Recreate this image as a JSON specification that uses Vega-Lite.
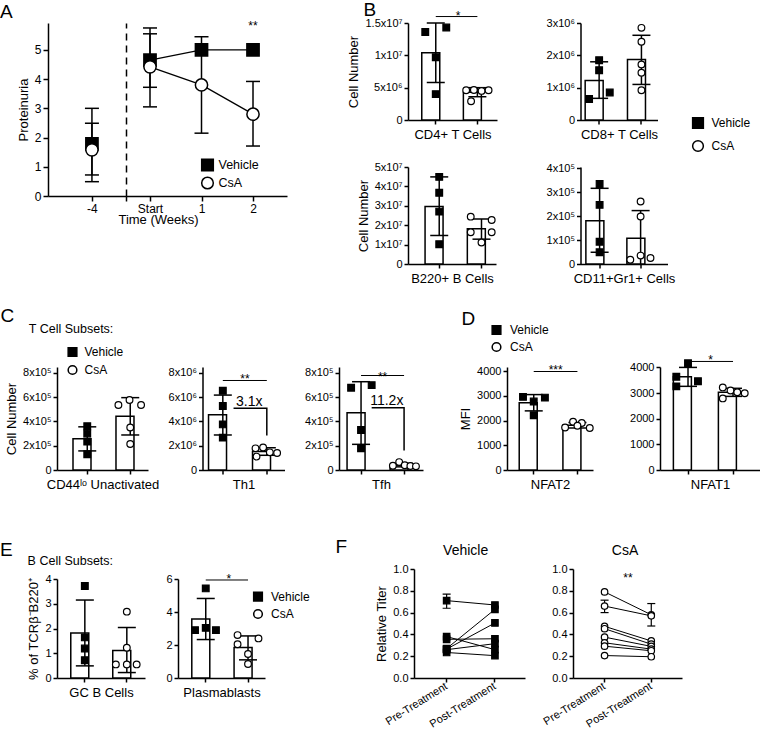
{
"$schema": "https://vega.github.io/schema/vega-lite/v6.json",
"background": "white",
"padding": 0,
"config": {
 "font": "Liberation Sans",
 "view": {"stroke": null},
 "mark": {"color": "black"},
 "axis": {"grid": false, "labelOverlap": false, "domainColor": "black", "domainWidth": 1.5, "tickColor": "black", "tickWidth": 1.5, "tickSize": 4, "labelColor": "black", "labelFont": "Liberation Sans", "labelFontSize": 11, "labelPadding": 2, "titleColor": "black", "titleFont": "Liberation Sans", "titleFontSize": 13, "titleFontWeight": "normal"},
 "axisX": {"titlePadding": 4},
 "axisY": {"titlePadding": 4},
 "legend": {"labelFont": "Liberation Sans", "labelColor": "black", "labelFontSize": 12},
 "title": {"font": "Liberation Sans", "fontWeight": "normal", "color": "black"}
},
"datasets": {
 "A": [
  {"seg": "L", "g": "Vehicle", "w": -4, "m": 1.78, "lo": 0.49, "hi": 3.0},
  {"seg": "L", "g": "CsA", "w": -4, "m": 1.58, "lo": 0.72, "hi": 2.49},
  {"seg": "R", "g": "Vehicle", "w": 0, "m": 4.65, "lo": 3.72, "hi": 5.55},
  {"seg": "R", "g": "CsA", "w": 0, "m": 4.42, "lo": 3.05, "hi": 5.75},
  {"seg": "R", "g": "Vehicle", "w": 1, "m": 5.0},
  {"seg": "R", "g": "CsA", "w": 1, "m": 3.8, "lo": 2.15, "hi": 5.45},
  {"seg": "R", "g": "Vehicle", "w": 2, "m": 5.0},
  {"seg": "R", "g": "CsA", "w": 2, "m": 2.8, "lo": 1.71, "hi": 3.92}
 ],
 "bars": [
  {"p": "CD4", "k": "s", "g": "Vehicle", "m": 10400000, "lo": 5800000, "hi": 15000000},
  {"p": "CD4", "k": "s", "g": "CsA", "m": 4300000, "lo": 3600000, "hi": 5000000},
  {"p": "CD4", "k": "p", "g": "Vehicle", "v": 13600000, "j": -0.75},
  {"p": "CD4", "k": "p", "g": "Vehicle", "v": 14300000, "j": 0.75},
  {"p": "CD4", "k": "p", "g": "Vehicle", "v": 9700000, "j": 0},
  {"p": "CD4", "k": "p", "g": "Vehicle", "v": 4000000, "j": 0},
  {"p": "CD4", "k": "p", "g": "CsA", "v": 4600000, "j": -0.8},
  {"p": "CD4", "k": "p", "g": "CsA", "v": 4650000, "j": -0.25},
  {"p": "CD4", "k": "p", "g": "CsA", "v": 4500000, "j": 0.3},
  {"p": "CD4", "k": "p", "g": "CsA", "v": 4600000, "j": 0.8},
  {"p": "CD4", "k": "p", "g": "CsA", "v": 2900000, "j": -0.45},
  {"p": "CD4", "k": "sig", "g": "Vehicle", "v": 16000000},
  {"p": "CD4", "k": "sig", "g": "CsA", "v": 16000000},
  {"p": "CD4", "k": "ast", "g": "Vehicle", "v": 15400000, "j": 1.6, "t": "*"},
  {"p": "CD8", "k": "s", "g": "Vehicle", "m": 1220000, "lo": 670000, "hi": 1800000},
  {"p": "CD8", "k": "s", "g": "CsA", "m": 1870000, "lo": 1100000, "hi": 2620000},
  {"p": "CD8", "k": "p", "g": "Vehicle", "v": 1850000, "j": 0},
  {"p": "CD8", "k": "p", "g": "Vehicle", "v": 1540000, "j": 0},
  {"p": "CD8", "k": "p", "g": "Vehicle", "v": 650000, "j": -0.72},
  {"p": "CD8", "k": "p", "g": "Vehicle", "v": 850000, "j": 0.76},
  {"p": "CD8", "k": "p", "g": "CsA", "v": 2850000, "j": 0},
  {"p": "CD8", "k": "p", "g": "CsA", "v": 2420000, "j": 0},
  {"p": "CD8", "k": "p", "g": "CsA", "v": 1720000, "j": 0},
  {"p": "CD8", "k": "p", "g": "CsA", "v": 1460000, "j": 0},
  {"p": "CD8", "k": "p", "g": "CsA", "v": 920000, "j": 0},
  {"p": "B220", "k": "s", "g": "Vehicle", "m": 29700000, "lo": 14700000, "hi": 44900000},
  {"p": "B220", "k": "s", "g": "CsA", "m": 18200000, "lo": 12800000, "hi": 23200000},
  {"p": "B220", "k": "p", "g": "Vehicle", "v": 44900000, "j": 0},
  {"p": "B220", "k": "p", "g": "Vehicle", "v": 36700000, "j": 0},
  {"p": "B220", "k": "p", "g": "Vehicle", "v": 27000000, "j": 0},
  {"p": "B220", "k": "p", "g": "Vehicle", "v": 10200000, "j": 0},
  {"p": "B220", "k": "p", "g": "CsA", "v": 24400000, "j": -0.76},
  {"p": "B220", "k": "p", "g": "CsA", "v": 22700000, "j": 0.72},
  {"p": "B220", "k": "p", "g": "CsA", "v": 16400000, "j": -0.76},
  {"p": "B220", "k": "p", "g": "CsA", "v": 16400000, "j": 0.72},
  {"p": "B220", "k": "p", "g": "CsA", "v": 11100000, "j": 0},
  {"p": "CD11", "k": "s", "g": "Vehicle", "m": 181000, "lo": 49000, "hi": 316000},
  {"p": "CD11", "k": "s", "g": "CsA", "m": 107000, "lo": 0, "hi": 223000},
  {"p": "CD11", "k": "p", "g": "Vehicle", "v": 334000, "j": 0},
  {"p": "CD11", "k": "p", "g": "Vehicle", "v": 247000, "j": 0},
  {"p": "CD11", "k": "p", "g": "Vehicle", "v": 93000, "j": 0},
  {"p": "CD11", "k": "p", "g": "Vehicle", "v": 49000, "j": 0},
  {"p": "CD11", "k": "p", "g": "CsA", "v": 261000, "j": 0},
  {"p": "CD11", "k": "p", "g": "CsA", "v": 198000, "j": 0},
  {"p": "CD11", "k": "p", "g": "CsA", "v": 18000, "j": -0.75},
  {"p": "CD11", "k": "p", "g": "CsA", "v": 35000, "j": 0},
  {"p": "CD11", "k": "p", "g": "CsA", "v": 25000, "j": 0.72},
  {"p": "C1", "k": "s", "g": "Vehicle", "m": 256000, "lo": 157000, "hi": 355000},
  {"p": "C1", "k": "s", "g": "CsA", "m": 441000, "lo": 288000, "hi": 595000},
  {"p": "C1", "k": "p", "g": "Vehicle", "v": 360000, "j": 0},
  {"p": "C1", "k": "p", "g": "Vehicle", "v": 300000, "j": 0},
  {"p": "C1", "k": "p", "g": "Vehicle", "v": 233000, "j": 0},
  {"p": "C1", "k": "p", "g": "Vehicle", "v": 130000, "j": 0},
  {"p": "C1", "k": "p", "g": "CsA", "v": 534000, "j": -0.83},
  {"p": "C1", "k": "p", "g": "CsA", "v": 575000, "j": -0.05},
  {"p": "C1", "k": "p", "g": "CsA", "v": 534000, "j": 0.76},
  {"p": "C1", "k": "p", "g": "CsA", "v": 350000, "j": 0},
  {"p": "C1", "k": "p", "g": "CsA", "v": 214000, "j": 0},
  {"p": "C2", "k": "s", "g": "Vehicle", "m": 4550000, "lo": 2880000, "hi": 6160000},
  {"p": "C2", "k": "s", "g": "CsA", "m": 1520000, "lo": 1210000, "hi": 1830000},
  {"p": "C2", "k": "p", "g": "Vehicle", "v": 6520000, "j": 0},
  {"p": "C2", "k": "p", "g": "Vehicle", "v": 5260000, "j": 0},
  {"p": "C2", "k": "p", "g": "Vehicle", "v": 3750000, "j": 0},
  {"p": "C2", "k": "p", "g": "Vehicle", "v": 2660000, "j": 0},
  {"p": "C2", "k": "p", "g": "CsA", "v": 1780000, "j": -0.79},
  {"p": "C2", "k": "p", "g": "CsA", "v": 1860000, "j": -0.26},
  {"p": "C2", "k": "p", "g": "CsA", "v": 1100000, "j": -0.72},
  {"p": "C2", "k": "p", "g": "CsA", "v": 1450000, "j": 0.21},
  {"p": "C2", "k": "p", "g": "CsA", "v": 1400000, "j": 0.72},
  {"p": "C2", "k": "sig", "g": "Vehicle", "v": 7360000},
  {"p": "C2", "k": "sig", "g": "CsA", "v": 7360000},
  {"p": "C2", "k": "ast", "g": "Vehicle", "v": 7150000, "j": 1.55, "t": "**"},
  {"p": "C2", "k": "br", "g": "Vehicle", "v": 5080000, "j": 0.75, "o": 1},
  {"p": "C2", "k": "br", "g": "CsA", "v": 5080000, "j": 0, "o": 2},
  {"p": "C2", "k": "br", "g": "CsA", "v": 2840000, "j": 0, "o": 3},
  {"p": "C2", "k": "fold", "g": "Vehicle", "v": 5300000, "j": 1.85, "t": "3.1x"},
  {"p": "C3", "k": "s", "g": "Vehicle", "m": 470000, "lo": 211000, "hi": 726000},
  {"p": "C3", "k": "s", "g": "CsA", "m": 40000, "lo": 26000, "hi": 54000},
  {"p": "C3", "k": "p", "g": "Vehicle", "v": 677000, "j": -0.71},
  {"p": "C3", "k": "p", "g": "Vehicle", "v": 698000, "j": 0.76},
  {"p": "C3", "k": "p", "g": "Vehicle", "v": 329000, "j": 0},
  {"p": "C3", "k": "p", "g": "Vehicle", "v": 178000, "j": 0},
  {"p": "C3", "k": "p", "g": "CsA", "v": 35000, "j": -0.8},
  {"p": "C3", "k": "p", "g": "CsA", "v": 65000, "j": -0.35},
  {"p": "C3", "k": "p", "g": "CsA", "v": 40000, "j": 0.05},
  {"p": "C3", "k": "p", "g": "CsA", "v": 33000, "j": 0.45},
  {"p": "C3", "k": "p", "g": "CsA", "v": 30000, "j": 0.85},
  {"p": "C3", "k": "sig", "g": "Vehicle", "v": 777000},
  {"p": "C3", "k": "sig", "g": "CsA", "v": 777000},
  {"p": "C3", "k": "ast", "g": "Vehicle", "v": 728000, "j": 1.54, "t": "**"},
  {"p": "C3", "k": "br", "g": "Vehicle", "v": 511000, "j": 0.76, "o": 1},
  {"p": "C3", "k": "br", "g": "CsA", "v": 511000, "j": 0, "o": 2},
  {"p": "C3", "k": "br", "g": "CsA", "v": 160000, "j": 0, "o": 3},
  {"p": "C3", "k": "fold", "g": "Vehicle", "v": 535000, "j": 1.84, "t": "11.2x"},
  {"p": "D1", "k": "s", "g": "Vehicle", "m": 2715, "lo": 2389, "hi": 3047},
  {"p": "D1", "k": "s", "g": "CsA", "m": 1812, "lo": 1700, "hi": 1924},
  {"p": "D1", "k": "p", "g": "Vehicle", "v": 2953, "j": -0.74},
  {"p": "D1", "k": "p", "g": "Vehicle", "v": 2926, "j": 0.77},
  {"p": "D1", "k": "p", "g": "Vehicle", "v": 2765, "j": 0},
  {"p": "D1", "k": "p", "g": "Vehicle", "v": 2215, "j": 0},
  {"p": "D1", "k": "p", "g": "CsA", "v": 1720, "j": -0.85},
  {"p": "D1", "k": "p", "g": "CsA", "v": 1950, "j": -0.3},
  {"p": "D1", "k": "p", "g": "CsA", "v": 1900, "j": 0.3},
  {"p": "D1", "k": "p", "g": "CsA", "v": 1700, "j": 0.85},
  {"p": "D1", "k": "p", "g": "CsA", "v": 1790, "j": 0},
  {"p": "D1", "k": "sig", "g": "Vehicle", "v": 3980},
  {"p": "D1", "k": "sig", "g": "CsA", "v": 3980},
  {"p": "D1", "k": "ast", "g": "Vehicle", "v": 3870, "j": 1.51, "t": "***"},
  {"p": "D2", "k": "s", "g": "Vehicle", "m": 3631, "lo": 3262, "hi": 4000},
  {"p": "D2", "k": "s", "g": "CsA", "m": 3028, "lo": 2871, "hi": 3185},
  {"p": "D2", "k": "p", "g": "Vehicle", "v": 4161, "j": 0},
  {"p": "D2", "k": "p", "g": "Vehicle", "v": 3638, "j": -0.8},
  {"p": "D2", "k": "p", "g": "Vehicle", "v": 3463, "j": 0.68},
  {"p": "D2", "k": "p", "g": "Vehicle", "v": 3262, "j": -0.8},
  {"p": "D2", "k": "p", "g": "CsA", "v": 3221, "j": -0.7},
  {"p": "D2", "k": "p", "g": "CsA", "v": 3100, "j": -0.17},
  {"p": "D2", "k": "p", "g": "CsA", "v": 3034, "j": 0.29},
  {"p": "D2", "k": "p", "g": "CsA", "v": 2993, "j": 0.8},
  {"p": "D2", "k": "p", "g": "CsA", "v": 2792, "j": -0.7},
  {"p": "D2", "k": "sig", "g": "Vehicle", "v": 4232},
  {"p": "D2", "k": "sig", "g": "CsA", "v": 4232},
  {"p": "D2", "k": "ast", "g": "Vehicle", "v": 4114, "j": 1.54, "t": "*"},
  {"p": "E1", "k": "s", "g": "Vehicle", "m": 1.82, "lo": 0.49, "hi": 3.15},
  {"p": "E1", "k": "s", "g": "CsA", "m": 1.11, "lo": 0.22, "hi": 2.04},
  {"p": "E1", "k": "p", "g": "Vehicle", "v": 3.72, "j": 0},
  {"p": "E1", "k": "p", "g": "Vehicle", "v": 1.64, "j": 0},
  {"p": "E1", "k": "p", "g": "Vehicle", "v": 1.19, "j": 0},
  {"p": "E1", "k": "p", "g": "Vehicle", "v": 0.72, "j": 0},
  {"p": "E1", "k": "p", "g": "CsA", "v": 2.68, "j": 0},
  {"p": "E1", "k": "p", "g": "CsA", "v": 1.22, "j": 0},
  {"p": "E1", "k": "p", "g": "CsA", "v": 0.55, "j": -0.78},
  {"p": "E1", "k": "p", "g": "CsA", "v": 0.55, "j": 0},
  {"p": "E1", "k": "p", "g": "CsA", "v": 0.55, "j": 0.7},
  {"p": "E2", "k": "s", "g": "Vehicle", "m": 3.57, "lo": 2.33, "hi": 4.82},
  {"p": "E2", "k": "s", "g": "CsA", "m": 1.85, "lo": 1.1, "hi": 2.55},
  {"p": "E2", "k": "p", "g": "Vehicle", "v": 5.43, "j": 0},
  {"p": "E2", "k": "p", "g": "Vehicle", "v": 2.9, "j": -0.77},
  {"p": "E2", "k": "p", "g": "Vehicle", "v": 3.04, "j": 0},
  {"p": "E2", "k": "p", "g": "Vehicle", "v": 2.9, "j": 0.73},
  {"p": "E2", "k": "p", "g": "CsA", "v": 2.6, "j": -0.75},
  {"p": "E2", "k": "p", "g": "CsA", "v": 2.4, "j": 0.75},
  {"p": "E2", "k": "p", "g": "CsA", "v": 2.05, "j": -0.75},
  {"p": "E2", "k": "p", "g": "CsA", "v": 1.45, "j": 0},
  {"p": "E2", "k": "p", "g": "CsA", "v": 0.85, "j": 0},
  {"p": "E2", "k": "sig", "g": "Vehicle", "v": 5.94},
  {"p": "E2", "k": "sig", "g": "CsA", "v": 5.94},
  {"p": "E2", "k": "ast", "g": "Vehicle", "v": 5.76, "j": 1.65, "t": "*"}
 ],
 "F": [
  {"p": "Vehicle", "id": "v1", "t": "Pre-Treatment", "v": 0.71, "lo": 0.64, "hi": 0.77},
  {"p": "Vehicle", "id": "v1", "t": "Post-Treatment", "v": 0.67},
  {"p": "Vehicle", "id": "v2", "t": "Pre-Treatment", "v": 0.38},
  {"p": "Vehicle", "id": "v2", "t": "Post-Treatment", "v": 0.26},
  {"p": "Vehicle", "id": "v3", "t": "Pre-Treatment", "v": 0.355},
  {"p": "Vehicle", "id": "v3", "t": "Post-Treatment", "v": 0.36},
  {"p": "Vehicle", "id": "v4", "t": "Pre-Treatment", "v": 0.27},
  {"p": "Vehicle", "id": "v4", "t": "Post-Treatment", "v": 0.63},
  {"p": "Vehicle", "id": "v5", "t": "Pre-Treatment", "v": 0.265},
  {"p": "Vehicle", "id": "v5", "t": "Post-Treatment", "v": 0.505},
  {"p": "Vehicle", "id": "v6", "t": "Pre-Treatment", "v": 0.26},
  {"p": "Vehicle", "id": "v6", "t": "Post-Treatment", "v": 0.315},
  {"p": "Vehicle", "id": "v7", "t": "Pre-Treatment", "v": 0.234},
  {"p": "Vehicle", "id": "v7", "t": "Post-Treatment", "v": 0.205},
  {"p": "CsA", "id": "c1", "t": "Pre-Treatment", "v": 0.79},
  {"p": "CsA", "id": "c1", "t": "Post-Treatment", "v": 0.58, "lo": 0.477, "hi": 0.683},
  {"p": "CsA", "id": "c2", "t": "Pre-Treatment", "v": 0.66, "lo": 0.6, "hi": 0.714},
  {"p": "CsA", "id": "c2", "t": "Post-Treatment", "v": 0.57},
  {"p": "CsA", "id": "c3", "t": "Pre-Treatment", "v": 0.474},
  {"p": "CsA", "id": "c3", "t": "Post-Treatment", "v": 0.34},
  {"p": "CsA", "id": "c4", "t": "Pre-Treatment", "v": 0.452},
  {"p": "CsA", "id": "c4", "t": "Post-Treatment", "v": 0.31},
  {"p": "CsA", "id": "c5", "t": "Pre-Treatment", "v": 0.375},
  {"p": "CsA", "id": "c5", "t": "Post-Treatment", "v": 0.29},
  {"p": "CsA", "id": "c6", "t": "Pre-Treatment", "v": 0.323},
  {"p": "CsA", "id": "c6", "t": "Post-Treatment", "v": 0.265},
  {"p": "CsA", "id": "c7", "t": "Pre-Treatment", "v": 0.292},
  {"p": "CsA", "id": "c7", "t": "Post-Treatment", "v": 0.25},
  {"p": "CsA", "id": "c8", "t": "Pre-Treatment", "v": 0.206},
  {"p": "CsA", "id": "c8", "t": "Post-Treatment", "v": 0.195}
 ]
},
"columns": 6, "spacing": 0, "bounds": "flush", "align": "each",
"resolve": {"scale": {"x": "independent", "y": "independent", "xOffset": "independent", "shape": "independent", "fill": "independent", "stroke": "independent"}, "legend": {"shape": "independent", "fill": "independent", "stroke": "independent"}},
"concat": [
 {"width": 48, "height": 23, "view": {"fill": "white"}, "data": {"values": []}, "mark": "point",
  "title": {"text": "A", "orient": "bottom", "anchor": "start", "frame": "group", "dx": 0, "offset": -5.5, "fontSize": 19, "baseline": "alphabetic"}},
 {"width": 9, "height": 1, "data": {"values": []}, "mark": "point"},
 {"width": 351, "height": 23, "data": {"values": []}, "mark": "point",
  "title": {"text": "B", "orient": "bottom", "anchor": "start", "frame": "group", "dx": 306.5, "offset": -7, "fontSize": 19, "baseline": "alphabetic"}},
 {"width": 6, "height": 1, "data": {"values": []}, "mark": "point"},
 {"width": 93, "height": 1, "data": {"values": []}, "mark": "point"},
 {"width": 1, "height": 1, "data": {"values": []}, "mark": "point"},

 {"width": 1, "height": 344, "data": {"values": []}, "mark": "point",
  "title": {"text": "Time (Weeks)", "orient": "bottom", "anchor": "middle", "frame": "group", "dx": 158, "offset": -143, "fontSize": 13, "baseline": "alphabetic"}},
 {"hconcat": [
  {"width": 78, "height": 173,
   "data": {"name": "A"}, "transform": [{"filter": "datum.seg=='L'"}],
   "encoding": {"x": {"field": "w", "type": "quantitative", "scale": {"domain": [-5.29, -3], "nice": false, "zero": false}, "axis": {"values": [-4, -3], "tickCount": 20, "labelExpr": "datum.value==-4?'-4':''", "title": null, "labelFontSize": 12, "tickSize": 5}}},
   "layer": [
    {"mark": {"type": "rule", "strokeWidth": 1.5}, "encoding": {"y": {"field": "lo", "type": "quantitative", "scale": {"domain": [0, 5.92], "nice": false}, "axis": {"values": [0, 1, 2, 3, 4, 5], "tickCount": 20, "format": "d", "title": "Proteinuria", "labelFontSize": 12, "tickSize": 5}}, "y2": {"field": "hi"}}},
    {"mark": {"type": "tick", "orient": "horizontal", "size": 14, "thickness": 1.5, "opacity": 1}, "encoding": {"y": {"field": "lo", "type": "quantitative"}}},
    {"mark": {"type": "tick", "orient": "horizontal", "size": 14, "thickness": 1.5, "opacity": 1}, "encoding": {"y": {"field": "hi", "type": "quantitative"}}},
    {"mark": {"type": "point", "filled": true, "stroke": "black", "strokeWidth": 1.5, "size": 150, "opacity": 1}, "encoding": {"y": {"field": "m", "type": "quantitative"},
      "shape": {"field": "g", "type": "nominal", "scale": {"domain": ["Vehicle", "CsA"], "range": ["square", "circle"]}, "legend": null},
      "fill": {"field": "g", "type": "nominal", "scale": {"domain": ["Vehicle", "CsA"], "range": ["black", "white"]}, "legend": null}}}
   ]},
  {"width": 161, "height": 173,
   "data": {"name": "A"}, "transform": [{"filter": "datum.seg=='R'"}],
   "encoding": {"x": {"field": "w", "type": "quantitative", "scale": {"domain": [-0.466, 2.66], "nice": false, "zero": false}, "axis": {"values": [0, 1, 2], "tickCount": 20, "labelExpr": "datum.value==0?'Start':datum.value==1?'1':'2'", "title": null, "labelFontSize": 12, "tickSize": 5}}},
   "layer": [
    {"mark": {"type": "line", "strokeWidth": 1.3}, "encoding": {"y": {"field": "m", "type": "quantitative", "scale": {"domain": [0, 5.92], "nice": false}, "axis": {"domainDash": [7, 5], "ticks": false, "labels": false, "title": null}}, "detail": {"field": "g"}}},
    {"transform": [{"filter": "isValid(datum.lo)"}], "mark": {"type": "rule", "strokeWidth": 1.5}, "encoding": {"y": {"field": "lo", "type": "quantitative"}, "y2": {"field": "hi"}}},
    {"transform": [{"filter": "isValid(datum.lo)"}], "mark": {"type": "tick", "orient": "horizontal", "size": 14, "thickness": 1.5, "opacity": 1}, "encoding": {"y": {"field": "lo", "type": "quantitative"}}},
    {"transform": [{"filter": "isValid(datum.lo)"}], "mark": {"type": "tick", "orient": "horizontal", "size": 14, "thickness": 1.5, "opacity": 1}, "encoding": {"y": {"field": "hi", "type": "quantitative"}}},
    {"mark": {"type": "point", "filled": true, "stroke": "black", "strokeWidth": 1.5, "size": 150, "opacity": 1}, "encoding": {"y": {"field": "m", "type": "quantitative"},
      "shape": {"field": "g", "type": "nominal", "scale": {"domain": ["Vehicle", "CsA"], "range": ["square", "circle"]}, "legend": {"orient": "none", "legendX": 74.5, "legendY": 135, "title": null, "symbolSize": 135, "symbolStrokeWidth": 1.5, "labelFontSize": 12.5, "labelOffset": 4, "rowPadding": 0}},
      "fill": {"field": "g", "type": "nominal", "scale": {"domain": ["Vehicle", "CsA"], "range": ["black", "white"]}, "legend": {"orient": "none", "legendX": 74.5, "legendY": 135, "title": null, "symbolSize": 135, "symbolStrokeWidth": 1.5, "labelFontSize": 12.5, "labelOffset": 4, "rowPadding": 0}},
      "stroke": {"field": "g", "type": "nominal", "scale": {"domain": ["Vehicle", "CsA"], "range": ["black", "black"]}, "legend": {"orient": "none", "legendX": 74.5, "legendY": 135, "title": null, "symbolSize": 135, "symbolStrokeWidth": 1.5, "labelFontSize": 12.5, "labelOffset": 4, "rowPadding": 0}}}},
    {"data": {"values": [{"w": 2, "v": 5.69, "t": "**"}]}, "mark": {"type": "text", "fontSize": 12, "baseline": "alphabetic"}, "encoding": {"x": {"field": "w", "type": "quantitative"}, "y": {"field": "v", "type": "quantitative"}, "text": {"field": "t"}}}
   ]}
 ], "spacing": 0, "bounds": "flush",
 "resolve": {"scale": {"x": "independent", "y": "independent", "xOffset": "independent", "shape": "independent", "fill": "independent", "stroke": "independent"}, "legend": {"shape": "independent", "fill": "independent", "stroke": "independent"}}},
 {"width": 1, "height": 1, "data": {"values": []}, "mark": "point",
  "title": {"text": "T Cell Subsets:", "orient": "bottom", "anchor": "start", "frame": "group", "dx": -28.2, "offset": 309.3, "fontSize": 12.5, "baseline": "alphabetic"}},
 {"concat": [
  {"width": 89, "height": 97,
   "data": {"name": "bars"}, "transform": [{"filter": "datum.p=='CD4'"}],
   "encoding": {"x": {"field": "g", "type": "nominal", "sort": ["Vehicle", "CsA"], "scale": {"type": "band", "paddingInner": 0.327, "paddingOuter": 0.233, "align": 0.71}, "axis": {"labels": false, "title": "CD4+ T Cells"}}},
   "layer": [
    {"transform": [{"filter": "datum.k=='s'"}], "mark": {"type": "bar", "fill": "white", "stroke": "black", "strokeWidth": 1.5}, "encoding": {"y": {"field": "m", "type": "quantitative", "scale": {"domain": [0, 15000000], "nice": false}, "axis": {"values": [0, 5000000, 10000000, 15000000], "tickCount": 20, "labelExpr": "datum.value==0?'0':datum.value==5000000?'5x10⁶':datum.value==10000000?'1x10⁷':'1.5x10⁷'", "title": "Cell Number"}}}},
    {"transform": [{"filter": "datum.k=='s'"}], "mark": {"type": "rule", "strokeWidth": 1.5}, "encoding": {"y": {"field": "lo", "type": "quantitative"}, "y2": {"field": "hi"}}},
    {"transform": [{"filter": "datum.k=='s'"}], "mark": {"type": "tick", "orient": "horizontal", "size": 18, "thickness": 1.5, "opacity": 1}, "encoding": {"y": {"field": "lo", "type": "quantitative"}}},
    {"transform": [{"filter": "datum.k=='s'"}], "mark": {"type": "tick", "orient": "horizontal", "size": 18, "thickness": 1.5, "opacity": 1}, "encoding": {"y": {"field": "hi", "type": "quantitative"}}},
    {"transform": [{"filter": "datum.k=='p'"}], "mark": {"type": "point", "filled": true, "stroke": "black", "strokeWidth": 1.2, "size": 45, "opacity": 1}, "encoding": {"xOffset": {"field": "j", "type": "quantitative", "scale": {"domain": [-1, 1], "nice": false, "zero": false}}, "y": {"field": "v", "type": "quantitative"},
      "shape": {"field": "g", "type": "nominal", "scale": {"domain": ["Vehicle", "CsA"], "range": ["square", "circle"]}, "legend": null},
      "fill": {"field": "g", "type": "nominal", "scale": {"domain": ["Vehicle", "CsA"], "range": ["black", "white"]}, "legend": null}}},
    {"transform": [{"filter": "datum.k=='sig'"}], "mark": {"type": "line", "strokeWidth": 1}, "encoding": {"y": {"field": "v", "type": "quantitative"}}},
    {"transform": [{"filter": "datum.k=='ast'"}], "mark": {"type": "text", "fontSize": 12, "baseline": "alphabetic"}, "encoding": {"xOffset": {"field": "j", "type": "quantitative", "scale": {"domain": [-1, 1], "nice": false, "zero": false}}, "y": {"field": "v", "type": "quantitative"}, "text": {"field": "t"}}}
   ]},
  {"width": 77, "height": 97,
   "data": {"name": "bars"}, "transform": [{"filter": "datum.p=='CD8'"}],
   "encoding": {"x": {"field": "g", "type": "nominal", "sort": ["Vehicle", "CsA"], "scale": {"type": "band", "paddingInner": 0.34, "paddingOuter": 0.08, "align": 0.69}, "axis": {"labels": false, "title": "CD8+ T Cells"}}},
   "layer": [
    {"transform": [{"filter": "datum.k=='s'"}], "mark": {"type": "bar", "fill": "white", "stroke": "black", "strokeWidth": 1.5}, "encoding": {"y": {"field": "m", "type": "quantitative", "scale": {"domain": [0, 3000000], "nice": false}, "axis": {"values": [0, 1000000, 2000000, 3000000], "tickCount": 20, "labelExpr": "datum.value==0?'0':(datum.value/1000000)+'x10⁶'", "title": null}}}},
    {"transform": [{"filter": "datum.k=='s'"}], "mark": {"type": "rule", "strokeWidth": 1.5}, "encoding": {"y": {"field": "lo", "type": "quantitative"}, "y2": {"field": "hi"}}},
    {"transform": [{"filter": "datum.k=='s'"}], "mark": {"type": "tick", "orient": "horizontal", "size": 18, "thickness": 1.5, "opacity": 1}, "encoding": {"y": {"field": "lo", "type": "quantitative"}}},
    {"transform": [{"filter": "datum.k=='s'"}], "mark": {"type": "tick", "orient": "horizontal", "size": 18, "thickness": 1.5, "opacity": 1}, "encoding": {"y": {"field": "hi", "type": "quantitative"}}},
    {"transform": [{"filter": "datum.k=='p'"}], "mark": {"type": "point", "filled": true, "stroke": "black", "strokeWidth": 1.2, "size": 45, "opacity": 1}, "encoding": {"xOffset": {"field": "j", "type": "quantitative", "scale": {"domain": [-1, 1], "nice": false, "zero": false}}, "y": {"field": "v", "type": "quantitative"},
      "shape": {"field": "g", "type": "nominal", "scale": {"domain": ["Vehicle", "CsA"], "range": ["square", "circle"]}, "legend": {"orient": "none", "legendX": 111, "legendY": 93.5, "title": null, "symbolSize": 115, "symbolStrokeWidth": 1.5, "labelFontSize": 12, "labelOffset": 7, "rowPadding": 6}},
      "fill": {"field": "g", "type": "nominal", "scale": {"domain": ["Vehicle", "CsA"], "range": ["black", "white"]}, "legend": {"orient": "none", "legendX": 111, "legendY": 93.5, "title": null, "symbolSize": 115, "symbolStrokeWidth": 1.5, "labelFontSize": 12, "labelOffset": 7, "rowPadding": 6}},
      "stroke": {"field": "g", "type": "nominal", "scale": {"domain": ["Vehicle", "CsA"], "range": ["black", "black"]}, "legend": {"orient": "none", "legendX": 111, "legendY": 93.5, "title": null, "symbolSize": 115, "symbolStrokeWidth": 1.5, "labelFontSize": 12, "labelOffset": 7, "rowPadding": 6}}}}
   ]},
  {"width": 88, "height": 97,
   "data": {"name": "bars"}, "transform": [{"filter": "datum.p=='B220'"}],
   "encoding": {"x": {"field": "g", "type": "nominal", "sort": ["Vehicle", "CsA"], "scale": {"type": "band", "paddingInner": 0.33, "paddingOuter": 0.206, "align": 0.98}, "axis": {"labels": false, "title": "B220+ B Cells"}}},
   "layer": [
    {"transform": [{"filter": "datum.k=='s'"}], "mark": {"type": "bar", "fill": "white", "stroke": "black", "strokeWidth": 1.5}, "encoding": {"y": {"field": "m", "type": "quantitative", "scale": {"domain": [0, 50000000], "nice": false}, "axis": {"values": [0, 10000000, 20000000, 30000000, 40000000, 50000000], "tickCount": 20, "labelExpr": "datum.value==0?'0':(datum.value/10000000)+'x10⁷'", "title": "Cell Number"}}}},
    {"transform": [{"filter": "datum.k=='s'"}], "mark": {"type": "rule", "strokeWidth": 1.5}, "encoding": {"y": {"field": "lo", "type": "quantitative"}, "y2": {"field": "hi"}}},
    {"transform": [{"filter": "datum.k=='s'"}], "mark": {"type": "tick", "orient": "horizontal", "size": 18, "thickness": 1.5, "opacity": 1}, "encoding": {"y": {"field": "lo", "type": "quantitative"}}},
    {"transform": [{"filter": "datum.k=='s'"}], "mark": {"type": "tick", "orient": "horizontal", "size": 18, "thickness": 1.5, "opacity": 1}, "encoding": {"y": {"field": "hi", "type": "quantitative"}}},
    {"transform": [{"filter": "datum.k=='p'"}], "mark": {"type": "point", "filled": true, "stroke": "black", "strokeWidth": 1.2, "size": 45, "opacity": 1}, "encoding": {"xOffset": {"field": "j", "type": "quantitative", "scale": {"domain": [-1, 1], "nice": false, "zero": false}}, "y": {"field": "v", "type": "quantitative"},
      "shape": {"field": "g", "type": "nominal", "scale": {"domain": ["Vehicle", "CsA"], "range": ["square", "circle"]}, "legend": null},
      "fill": {"field": "g", "type": "nominal", "scale": {"domain": ["Vehicle", "CsA"], "range": ["black", "white"]}, "legend": null}}}
   ]},
  {"width": 87, "height": 97,
   "data": {"name": "bars"}, "transform": [{"filter": "datum.p=='CD11'"}],
   "encoding": {"x": {"field": "g", "type": "nominal", "sort": ["Vehicle", "CsA"], "scale": {"type": "band", "paddingInner": 0.33, "paddingOuter": 0.226, "align": 0.29}, "axis": {"labels": false, "title": "CD11+Gr1+ Cells"}}},
   "layer": [
    {"transform": [{"filter": "datum.k=='s'"}], "mark": {"type": "bar", "fill": "white", "stroke": "black", "strokeWidth": 1.5}, "encoding": {"y": {"field": "m", "type": "quantitative", "scale": {"domain": [0, 405000], "nice": false}, "axis": {"values": [0, 100000, 200000, 300000, 400000], "tickCount": 20, "labelExpr": "datum.value==0?'0':(datum.value/100000)+'x10⁵'", "title": null}}}},
    {"transform": [{"filter": "datum.k=='s'"}], "mark": {"type": "rule", "strokeWidth": 1.5}, "encoding": {"y": {"field": "lo", "type": "quantitative"}, "y2": {"field": "hi"}}},
    {"transform": [{"filter": "datum.k=='s' && datum.lo>0"}], "mark": {"type": "tick", "orient": "horizontal", "size": 18, "thickness": 1.5, "opacity": 1}, "encoding": {"y": {"field": "lo", "type": "quantitative"}}},
    {"transform": [{"filter": "datum.k=='s'"}], "mark": {"type": "tick", "orient": "horizontal", "size": 18, "thickness": 1.5, "opacity": 1}, "encoding": {"y": {"field": "hi", "type": "quantitative"}}},
    {"transform": [{"filter": "datum.k=='p'"}], "mark": {"type": "point", "filled": true, "stroke": "black", "strokeWidth": 1.2, "size": 45, "opacity": 1}, "encoding": {"xOffset": {"field": "j", "type": "quantitative", "scale": {"domain": [-1, 1], "nice": false, "zero": false}}, "y": {"field": "v", "type": "quantitative"},
      "shape": {"field": "g", "type": "nominal", "scale": {"domain": ["Vehicle", "CsA"], "range": ["square", "circle"]}, "legend": null},
      "fill": {"field": "g", "type": "nominal", "scale": {"domain": ["Vehicle", "CsA"], "range": ["black", "white"]}, "legend": null}}}
   ]}
 ], "columns": 2, "spacing": {"row": 47, "column": 83.5}, "bounds": "flush",
 "resolve": {"scale": {"x": "independent", "y": "independent", "xOffset": "independent", "shape": "independent", "fill": "independent", "stroke": "independent"}, "legend": {"shape": "independent", "fill": "independent", "stroke": "independent"}}},
 {"width": 1, "height": 1, "data": {"values": []}, "mark": "point",
  "title": {"text": "D", "orient": "bottom", "anchor": "start", "frame": "group", "dx": 47.5, "offset": 301, "fontSize": 19, "baseline": "alphabetic"}},
 {"width": 1, "height": 1, "data": {"values": []}, "mark": "point",
  "title": {"text": "C", "orient": "bottom", "anchor": "start", "frame": "group", "dx": -506.5, "offset": 297.7, "fontSize": 19, "baseline": "alphabetic"}},

 {"width": 1, "height": 202, "data": {"values": []}, "mark": "point",
  "title": {"text": "E", "orient": "bottom", "anchor": "start", "frame": "group", "dx": 0, "offset": -13, "fontSize": 19, "baseline": "alphabetic"}},
 {"width": 1, "height": 1, "data": {"values": []}, "mark": "point",
  "title": {"text": "B Cell Subsets:", "orient": "bottom", "anchor": "start", "frame": "group", "dx": -20.4, "offset": 197, "fontSize": 12.5, "baseline": "alphabetic"}},
 {"hconcat": [
  {"width": 91, "height": 103,
   "data": {"name": "bars"}, "transform": [{"filter": "datum.p=='C1'"}],
   "encoding": {"x": {"field": "g", "type": "nominal", "sort": ["Vehicle", "CsA"], "scale": {"type": "band", "paddingInner": 0.337, "paddingOuter": 0.227, "align": 0.82}, "axis": {"labels": false, "title": "CD44ˡᵒ Unactivated"}}},
   "layer": [
    {"transform": [{"filter": "datum.k=='s'"}], "mark": {"type": "bar", "fill": "white", "stroke": "black", "strokeWidth": 1.5}, "encoding": {"y": {"field": "m", "type": "quantitative", "scale": {"domain": [0, 847000], "nice": false}, "axis": {"values": [0, 200000, 400000, 600000, 800000], "tickCount": 20, "labelExpr": "datum.value==0?'0':(datum.value/100000)+'x10⁵'", "title": "Cell Number"}}}},
    {"transform": [{"filter": "datum.k=='s'"}], "mark": {"type": "rule", "strokeWidth": 1.5}, "encoding": {"y": {"field": "lo", "type": "quantitative"}, "y2": {"field": "hi"}}},
    {"transform": [{"filter": "datum.k=='s'"}], "mark": {"type": "tick", "orient": "horizontal", "size": 18, "thickness": 1.5, "opacity": 1}, "encoding": {"y": {"field": "lo", "type": "quantitative"}}},
    {"transform": [{"filter": "datum.k=='s'"}], "mark": {"type": "tick", "orient": "horizontal", "size": 18, "thickness": 1.5, "opacity": 1}, "encoding": {"y": {"field": "hi", "type": "quantitative"}}},
    {"transform": [{"filter": "datum.k=='p'"}], "mark": {"type": "point", "filled": true, "stroke": "black", "strokeWidth": 1.2, "size": 45, "opacity": 1}, "encoding": {"xOffset": {"field": "j", "type": "quantitative", "scale": {"domain": [-1, 1], "nice": false, "zero": false}}, "y": {"field": "v", "type": "quantitative"},
      "shape": {"field": "g", "type": "nominal", "scale": {"domain": ["Vehicle", "CsA"], "range": ["square", "circle"]}, "legend": {"orient": "none", "legendX": 9.5, "legendY": -21, "title": null, "symbolSize": 75, "symbolStrokeWidth": 1.5, "labelFontSize": 12, "labelOffset": 6, "rowPadding": 2}},
      "fill": {"field": "g", "type": "nominal", "scale": {"domain": ["Vehicle", "CsA"], "range": ["black", "white"]}, "legend": {"orient": "none", "legendX": 9.5, "legendY": -21, "title": null, "symbolSize": 75, "symbolStrokeWidth": 1.5, "labelFontSize": 12, "labelOffset": 6, "rowPadding": 2}},
      "stroke": {"field": "g", "type": "nominal", "scale": {"domain": ["Vehicle", "CsA"], "range": ["black", "black"]}, "legend": {"orient": "none", "legendX": 9.5, "legendY": -21, "title": null, "symbolSize": 75, "symbolStrokeWidth": 1.5, "labelFontSize": 12, "labelOffset": 6, "rowPadding": 2}}}}
   ]},
  {"width": 82, "height": 103,
   "data": {"name": "bars"}, "transform": [{"filter": "datum.p=='C2'"}],
   "encoding": {"x": {"field": "g", "type": "nominal", "sort": ["Vehicle", "CsA"], "scale": {"type": "band", "paddingInner": 0.35, "paddingOuter": 0.107, "align": 0.64}, "axis": {"labels": false, "title": "Th1"}}},
   "layer": [
    {"transform": [{"filter": "datum.k=='s'"}], "mark": {"type": "bar", "fill": "white", "stroke": "black", "strokeWidth": 1.5}, "encoding": {"y": {"field": "m", "type": "quantitative", "scale": {"domain": [0, 8470000], "nice": false}, "axis": {"values": [0, 2000000, 4000000, 6000000, 8000000], "tickCount": 20, "labelExpr": "datum.value==0?'0':(datum.value/1000000)+'x10⁶'", "title": null}}}},
    {"transform": [{"filter": "datum.k=='s'"}], "mark": {"type": "rule", "strokeWidth": 1.5}, "encoding": {"y": {"field": "lo", "type": "quantitative"}, "y2": {"field": "hi"}}},
    {"transform": [{"filter": "datum.k=='s'"}], "mark": {"type": "tick", "orient": "horizontal", "size": 18, "thickness": 1.5, "opacity": 1}, "encoding": {"y": {"field": "lo", "type": "quantitative"}}},
    {"transform": [{"filter": "datum.k=='s'"}], "mark": {"type": "tick", "orient": "horizontal", "size": 18, "thickness": 1.5, "opacity": 1}, "encoding": {"y": {"field": "hi", "type": "quantitative"}}},
    {"transform": [{"filter": "datum.k=='p'"}], "mark": {"type": "point", "filled": true, "stroke": "black", "strokeWidth": 1.2, "size": 45, "opacity": 1}, "encoding": {"xOffset": {"field": "j", "type": "quantitative", "scale": {"domain": [-1, 1], "nice": false, "zero": false}}, "y": {"field": "v", "type": "quantitative"},
      "shape": {"field": "g", "type": "nominal", "scale": {"domain": ["Vehicle", "CsA"], "range": ["square", "circle"]}, "legend": null},
      "fill": {"field": "g", "type": "nominal", "scale": {"domain": ["Vehicle", "CsA"], "range": ["black", "white"]}, "legend": null}}},
    {"transform": [{"filter": "datum.k=='sig'"}], "mark": {"type": "line", "strokeWidth": 1}, "encoding": {"y": {"field": "v", "type": "quantitative"}}},
    {"transform": [{"filter": "datum.k=='ast'"}], "mark": {"type": "text", "fontSize": 12, "baseline": "alphabetic"}, "encoding": {"xOffset": {"field": "j", "type": "quantitative", "scale": {"domain": [-1, 1], "nice": false, "zero": false}}, "y": {"field": "v", "type": "quantitative"}, "text": {"field": "t"}}},
    {"transform": [{"filter": "datum.k=='br'"}], "mark": {"type": "line", "strokeWidth": 1.5}, "encoding": {"xOffset": {"field": "j", "type": "quantitative", "scale": {"domain": [-1, 1], "nice": false, "zero": false}}, "y": {"field": "v", "type": "quantitative"}, "order": {"field": "o"}}},
    {"transform": [{"filter": "datum.k=='fold'"}], "mark": {"type": "text", "fontSize": 14, "baseline": "alphabetic"}, "encoding": {"xOffset": {"field": "j", "type": "quantitative", "scale": {"domain": [-1, 1], "nice": false, "zero": false}}, "y": {"field": "v", "type": "quantitative"}, "text": {"field": "t"}}}
   ]},
  {"width": 84, "height": 103,
   "data": {"name": "bars"}, "transform": [{"filter": "datum.p=='C3'"}],
   "encoding": {"x": {"field": "g", "type": "nominal", "sort": ["Vehicle", "CsA"], "scale": {"type": "band", "paddingInner": 0.35, "paddingOuter": 0.151, "align": 0.62}, "axis": {"labels": false, "title": "Tfh"}}},
   "layer": [
    {"transform": [{"filter": "datum.k=='s'"}], "mark": {"type": "bar", "fill": "white", "stroke": "black", "strokeWidth": 1.5}, "encoding": {"y": {"field": "m", "type": "quantitative", "scale": {"domain": [0, 847000], "nice": false}, "axis": {"values": [0, 200000, 400000, 600000, 800000], "tickCount": 20, "labelExpr": "datum.value==0?'0':(datum.value/100000)+'x10⁵'", "title": null}}}},
    {"transform": [{"filter": "datum.k=='s'"}], "mark": {"type": "rule", "strokeWidth": 1.5}, "encoding": {"y": {"field": "lo", "type": "quantitative"}, "y2": {"field": "hi"}}},
    {"transform": [{"filter": "datum.k=='s'"}], "mark": {"type": "tick", "orient": "horizontal", "size": 18, "thickness": 1.5, "opacity": 1}, "encoding": {"y": {"field": "lo", "type": "quantitative"}}},
    {"transform": [{"filter": "datum.k=='s'"}], "mark": {"type": "tick", "orient": "horizontal", "size": 18, "thickness": 1.5, "opacity": 1}, "encoding": {"y": {"field": "hi", "type": "quantitative"}}},
    {"transform": [{"filter": "datum.k=='p'"}], "mark": {"type": "point", "filled": true, "stroke": "black", "strokeWidth": 1.2, "size": 45, "opacity": 1}, "encoding": {"xOffset": {"field": "j", "type": "quantitative", "scale": {"domain": [-1, 1], "nice": false, "zero": false}}, "y": {"field": "v", "type": "quantitative"},
      "shape": {"field": "g", "type": "nominal", "scale": {"domain": ["Vehicle", "CsA"], "range": ["square", "circle"]}, "legend": null},
      "fill": {"field": "g", "type": "nominal", "scale": {"domain": ["Vehicle", "CsA"], "range": ["black", "white"]}, "legend": null}}},
    {"transform": [{"filter": "datum.k=='sig'"}], "mark": {"type": "line", "strokeWidth": 1}, "encoding": {"y": {"field": "v", "type": "quantitative"}}},
    {"transform": [{"filter": "datum.k=='ast'"}], "mark": {"type": "text", "fontSize": 12, "baseline": "alphabetic"}, "encoding": {"xOffset": {"field": "j", "type": "quantitative", "scale": {"domain": [-1, 1], "nice": false, "zero": false}}, "y": {"field": "v", "type": "quantitative"}, "text": {"field": "t"}}},
    {"transform": [{"filter": "datum.k=='br'"}], "mark": {"type": "line", "strokeWidth": 1.5}, "encoding": {"xOffset": {"field": "j", "type": "quantitative", "scale": {"domain": [-1, 1], "nice": false, "zero": false}}, "y": {"field": "v", "type": "quantitative"}, "order": {"field": "o"}}},
    {"transform": [{"filter": "datum.k=='fold'"}], "mark": {"type": "text", "fontSize": 14, "baseline": "alphabetic"}, "encoding": {"xOffset": {"field": "j", "type": "quantitative", "scale": {"domain": [-1, 1], "nice": false, "zero": false}}, "y": {"field": "v", "type": "quantitative"}, "text": {"field": "t"}}}
   ]}
 ], "spacing": 54.5, "bounds": "flush",
 "resolve": {"scale": {"x": "independent", "y": "independent", "xOffset": "independent", "shape": "independent", "fill": "independent", "stroke": "independent"}, "legend": {"shape": "independent", "fill": "independent", "stroke": "independent"}}},
 {"width": 1, "height": 1, "data": {"values": []}, "mark": "point",
  "title": {"text": "F", "orient": "bottom", "anchor": "start", "frame": "group", "dx": -72.5, "offset": 185.3, "fontSize": 19, "baseline": "alphabetic"}},
 {"width": 1, "height": 1, "data": {"values": []}, "mark": "point",
  "title": {"text": "Vehicle", "orient": "bottom", "anchor": "middle", "frame": "group", "dx": 51.2, "offset": 187, "fontSize": 14, "baseline": "alphabetic"}},
 {"hconcat": [
  {"width": 86, "height": 103,
   "data": {"name": "bars"}, "transform": [{"filter": "datum.p=='D1'"}],
   "encoding": {"x": {"field": "g", "type": "nominal", "sort": ["Vehicle", "CsA"], "scale": {"type": "band", "paddingInner": 0.336, "paddingOuter": 0.152, "align": 0.92}, "axis": {"labels": false, "title": "NFAT2"}}},
   "layer": [
    {"transform": [{"filter": "datum.k=='s'"}], "mark": {"type": "bar", "fill": "white", "stroke": "black", "strokeWidth": 1.5}, "encoding": {"y": {"field": "m", "type": "quantitative", "scale": {"domain": [0, 4162], "nice": false}, "axis": {"values": [0, 1000, 2000, 3000, 4000], "tickCount": 20, "format": "d", "title": "MFI"}}}},
    {"transform": [{"filter": "datum.k=='s'"}], "mark": {"type": "rule", "strokeWidth": 1.5}, "encoding": {"y": {"field": "lo", "type": "quantitative"}, "y2": {"field": "hi"}}},
    {"transform": [{"filter": "datum.k=='s'"}], "mark": {"type": "tick", "orient": "horizontal", "size": 18, "thickness": 1.5, "opacity": 1}, "encoding": {"y": {"field": "lo", "type": "quantitative"}}},
    {"transform": [{"filter": "datum.k=='s'"}], "mark": {"type": "tick", "orient": "horizontal", "size": 18, "thickness": 1.5, "opacity": 1}, "encoding": {"y": {"field": "hi", "type": "quantitative"}}},
    {"transform": [{"filter": "datum.k=='p'"}], "mark": {"type": "point", "filled": true, "stroke": "black", "strokeWidth": 1.2, "size": 45, "opacity": 1}, "encoding": {"xOffset": {"field": "j", "type": "quantitative", "scale": {"domain": [-1, 1], "nice": false, "zero": false}}, "y": {"field": "v", "type": "quantitative"},
      "shape": {"field": "g", "type": "nominal", "scale": {"domain": ["Vehicle", "CsA"], "range": ["square", "circle"]}, "legend": {"orient": "none", "legendX": -16.5, "legendY": -43, "title": null, "symbolSize": 75, "symbolStrokeWidth": 1.5, "labelFontSize": 12, "labelOffset": 7.5, "rowPadding": 1}},
      "fill": {"field": "g", "type": "nominal", "scale": {"domain": ["Vehicle", "CsA"], "range": ["black", "white"]}, "legend": {"orient": "none", "legendX": -16.5, "legendY": -43, "title": null, "symbolSize": 75, "symbolStrokeWidth": 1.5, "labelFontSize": 12, "labelOffset": 7.5, "rowPadding": 1}},
      "stroke": {"field": "g", "type": "nominal", "scale": {"domain": ["Vehicle", "CsA"], "range": ["black", "black"]}, "legend": {"orient": "none", "legendX": -16.5, "legendY": -43, "title": null, "symbolSize": 75, "symbolStrokeWidth": 1.5, "labelFontSize": 12, "labelOffset": 7.5, "rowPadding": 1}}}},
    {"transform": [{"filter": "datum.k=='sig'"}], "mark": {"type": "line", "strokeWidth": 1}, "encoding": {"y": {"field": "v", "type": "quantitative"}}},
    {"transform": [{"filter": "datum.k=='ast'"}], "mark": {"type": "text", "fontSize": 12, "baseline": "alphabetic"}, "encoding": {"xOffset": {"field": "j", "type": "quantitative", "scale": {"domain": [-1, 1], "nice": false, "zero": false}}, "y": {"field": "v", "type": "quantitative"}, "text": {"field": "t"}}}
   ]},
  {"width": 100, "height": 103,
   "data": {"name": "bars"}, "transform": [{"filter": "datum.p=='D2'"}],
   "encoding": {"x": {"field": "g", "type": "nominal", "sort": ["Vehicle", "CsA"], "scale": {"type": "band", "paddingInner": 0.35, "paddingOuter": 0.286, "align": 0.52}, "axis": {"labels": false, "title": "NFAT1"}}},
   "layer": [
    {"transform": [{"filter": "datum.k=='s'"}], "mark": {"type": "bar", "fill": "white", "stroke": "black", "strokeWidth": 1.5}, "encoding": {"y": {"field": "m", "type": "quantitative", "scale": {"domain": [0, 4016], "nice": false}, "axis": {"values": [0, 1000, 2000, 3000, 4000], "tickCount": 20, "format": "d", "title": null}}}},
    {"transform": [{"filter": "datum.k=='s'"}], "mark": {"type": "rule", "strokeWidth": 1.5}, "encoding": {"y": {"field": "lo", "type": "quantitative"}, "y2": {"field": "hi"}}},
    {"transform": [{"filter": "datum.k=='s'"}], "mark": {"type": "tick", "orient": "horizontal", "size": 18, "thickness": 1.5, "opacity": 1}, "encoding": {"y": {"field": "lo", "type": "quantitative"}}},
    {"transform": [{"filter": "datum.k=='s'"}], "mark": {"type": "tick", "orient": "horizontal", "size": 18, "thickness": 1.5, "opacity": 1}, "encoding": {"y": {"field": "hi", "type": "quantitative"}}},
    {"transform": [{"filter": "datum.k=='p'"}], "mark": {"type": "point", "filled": true, "stroke": "black", "strokeWidth": 1.2, "size": 45, "opacity": 1}, "encoding": {"xOffset": {"field": "j", "type": "quantitative", "scale": {"domain": [-1, 1], "nice": false, "zero": false}}, "y": {"field": "v", "type": "quantitative"},
      "shape": {"field": "g", "type": "nominal", "scale": {"domain": ["Vehicle", "CsA"], "range": ["square", "circle"]}, "legend": null},
      "fill": {"field": "g", "type": "nominal", "scale": {"domain": ["Vehicle", "CsA"], "range": ["black", "white"]}, "legend": null}}},
    {"transform": [{"filter": "datum.k=='sig'"}], "mark": {"type": "line", "strokeWidth": 1}, "encoding": {"y": {"field": "v", "type": "quantitative"}}},
    {"transform": [{"filter": "datum.k=='ast'"}], "mark": {"type": "text", "fontSize": 12, "baseline": "alphabetic"}, "encoding": {"xOffset": {"field": "j", "type": "quantitative", "scale": {"domain": [-1, 1], "nice": false, "zero": false}}, "y": {"field": "v", "type": "quantitative"}, "text": {"field": "t"}}}
   ]}
 ], "spacing": 67, "bounds": "flush",
 "resolve": {"scale": {"x": "independent", "y": "independent", "xOffset": "independent", "shape": "independent", "fill": "independent", "stroke": "independent"}, "legend": {"shape": "independent", "fill": "independent", "stroke": "independent"}}},

 {"width": 1, "height": 10, "data": {"values": []}, "mark": "point"},
 {"width": 1, "height": 1, "data": {"values": []}, "mark": "point"},
 {"width": 1, "height": 1, "data": {"values": []}, "mark": "point"},
 {"width": 1, "height": 1, "data": {"values": []}, "mark": "point"},
 {"hconcat": [
  {"width": 111, "height": 109,
   "data": {"name": "F"}, "transform": [{"filter": "datum.p=='Vehicle'"}],
   "encoding": {"x": {"field": "t", "type": "nominal", "sort": ["Pre-Treatment", "Post-Treatment"], "scale": {"type": "band", "paddingInner": 0.586, "paddingOuter": 0.442, "align": 0.53}, "axis": {"title": null, "labelAngle": -32, "labelAlign": "right", "labelBaseline": "middle", "labelFontSize": 11, "labelPadding": 3}}},
   "layer": [
    {"mark": {"type": "line", "strokeWidth": 1}, "encoding": {"y": {"field": "v", "type": "quantitative", "scale": {"domain": [0, 1], "nice": false}, "axis": {"values": [0, 0.2, 0.4, 0.6, 0.8, 1], "tickCount": 20, "format": ".1f", "title": "Relative Titer"}}, "detail": {"field": "id"}}},
    {"transform": [{"filter": "isValid(datum.lo)"}], "mark": {"type": "rule", "strokeWidth": 1.2}, "encoding": {"y": {"field": "lo", "type": "quantitative"}, "y2": {"field": "hi"}}},
    {"transform": [{"filter": "isValid(datum.lo)"}], "mark": {"type": "tick", "orient": "horizontal", "size": 8, "thickness": 1.2, "opacity": 1}, "encoding": {"y": {"field": "lo", "type": "quantitative"}}},
    {"transform": [{"filter": "isValid(datum.lo)"}], "mark": {"type": "tick", "orient": "horizontal", "size": 8, "thickness": 1.2, "opacity": 1}, "encoding": {"y": {"field": "hi", "type": "quantitative"}}},
    {"mark": {"type": "point", "filled": true, "stroke": "black", "strokeWidth": 1.2, "size": 42, "opacity": 1}, "encoding": {"y": {"field": "v", "type": "quantitative"},
      "shape": {"field": "p", "type": "nominal", "scale": {"domain": ["Vehicle", "CsA"], "range": ["square", "circle"]}, "legend": null},
      "fill": {"field": "p", "type": "nominal", "scale": {"domain": ["Vehicle", "CsA"], "range": ["black", "white"]}, "legend": null}}}
   ]},
  {"width": 109, "height": 109,
   "data": {"name": "F"}, "transform": [{"filter": "datum.p=='CsA'"}],
   "encoding": {"x": {"field": "t", "type": "nominal", "sort": ["Pre-Treatment", "Post-Treatment"], "scale": {"type": "band", "paddingInner": 0.572, "paddingOuter": 0.453, "align": 0.51}, "axis": {"title": null, "labelAngle": -32, "labelAlign": "right", "labelBaseline": "middle", "labelFontSize": 11, "labelPadding": 3}}},
   "layer": [
    {"mark": {"type": "line", "strokeWidth": 1}, "encoding": {"y": {"field": "v", "type": "quantitative", "scale": {"domain": [0, 1], "nice": false}, "axis": {"values": [0, 0.2, 0.4, 0.6, 0.8, 1], "tickCount": 20, "format": ".1f", "title": null}}, "detail": {"field": "id"}}},
    {"transform": [{"filter": "isValid(datum.lo)"}], "mark": {"type": "rule", "strokeWidth": 1.2}, "encoding": {"y": {"field": "lo", "type": "quantitative"}, "y2": {"field": "hi"}}},
    {"transform": [{"filter": "isValid(datum.lo)"}], "mark": {"type": "tick", "orient": "horizontal", "size": 8, "thickness": 1.2, "opacity": 1}, "encoding": {"y": {"field": "lo", "type": "quantitative"}}},
    {"transform": [{"filter": "isValid(datum.lo)"}], "mark": {"type": "tick", "orient": "horizontal", "size": 8, "thickness": 1.2, "opacity": 1}, "encoding": {"y": {"field": "hi", "type": "quantitative"}}},
    {"mark": {"type": "point", "filled": true, "stroke": "black", "strokeWidth": 1.2, "size": 42, "opacity": 1}, "encoding": {"y": {"field": "v", "type": "quantitative"},
      "shape": {"field": "p", "type": "nominal", "scale": {"domain": ["Vehicle", "CsA"], "range": ["square", "circle"]}, "legend": null},
      "fill": {"field": "p", "type": "nominal", "scale": {"domain": ["Vehicle", "CsA"], "range": ["black", "white"]}, "legend": null}}},
    {"data": {"values": [{"t": "Pre-Treatment", "j": 2.34, "v": 0.88, "s": "**"}]}, "mark": {"type": "text", "fontSize": 12, "baseline": "alphabetic"}, "encoding": {"xOffset": {"field": "j", "type": "quantitative", "scale": {"domain": [-1, 1], "nice": false, "zero": false}}, "y": {"field": "v", "type": "quantitative"}, "text": {"field": "s"}}}
   ]}
 ], "spacing": 48, "bounds": "flush",
 "resolve": {"scale": {"x": "independent", "y": "independent", "xOffset": "independent", "shape": "independent", "fill": "independent", "stroke": "independent"}, "legend": {"shape": "independent", "fill": "independent", "stroke": "independent"}}},
 {"width": 1, "height": 1, "data": {"values": []}, "mark": "point",
  "title": {"text": "CsA", "orient": "bottom", "anchor": "middle", "frame": "group", "dx": 117.5, "offset": -15, "fontSize": 14, "baseline": "alphabetic"}},

 {"width": 1, "height": 1, "data": {"values": []}, "mark": "point"},
 {"width": 1, "height": 1, "data": {"values": []}, "mark": "point"},
 {"hconcat": [
  {"width": 88, "height": 99,
   "data": {"name": "bars"}, "transform": [{"filter": "datum.p=='E1'"}],
   "encoding": {"x": {"field": "g", "type": "nominal", "sort": ["Vehicle", "CsA"], "scale": {"type": "band", "paddingInner": 0.33, "paddingOuter": 0.213, "align": 0.77}, "axis": {"labels": false, "title": "GC B Cells"}}},
   "layer": [
    {"transform": [{"filter": "datum.k=='s'"}], "mark": {"type": "bar", "fill": "white", "stroke": "black", "strokeWidth": 1.5}, "encoding": {"y": {"field": "m", "type": "quantitative", "scale": {"domain": [0, 4], "nice": false}, "axis": {"values": [0, 1, 2, 3, 4], "tickCount": 20, "format": "d", "title": "% of TCRβ⁻B220⁺"}}}},
    {"transform": [{"filter": "datum.k=='s'"}], "mark": {"type": "rule", "strokeWidth": 1.5}, "encoding": {"y": {"field": "lo", "type": "quantitative"}, "y2": {"field": "hi"}}},
    {"transform": [{"filter": "datum.k=='s'"}], "mark": {"type": "tick", "orient": "horizontal", "size": 18, "thickness": 1.5, "opacity": 1}, "encoding": {"y": {"field": "lo", "type": "quantitative"}}},
    {"transform": [{"filter": "datum.k=='s'"}], "mark": {"type": "tick", "orient": "horizontal", "size": 18, "thickness": 1.5, "opacity": 1}, "encoding": {"y": {"field": "hi", "type": "quantitative"}}},
    {"transform": [{"filter": "datum.k=='p'"}], "mark": {"type": "point", "filled": true, "stroke": "black", "strokeWidth": 1.2, "size": 45, "opacity": 1}, "encoding": {"xOffset": {"field": "j", "type": "quantitative", "scale": {"domain": [-1, 1], "nice": false, "zero": false}}, "y": {"field": "v", "type": "quantitative"},
      "shape": {"field": "g", "type": "nominal", "scale": {"domain": ["Vehicle", "CsA"], "range": ["square", "circle"]}, "legend": null},
      "fill": {"field": "g", "type": "nominal", "scale": {"domain": ["Vehicle", "CsA"], "range": ["black", "white"]}, "legend": null}}}
   ]},
  {"width": 87, "height": 99,
   "data": {"name": "bars"}, "transform": [{"filter": "datum.p=='E2'"}],
   "encoding": {"x": {"field": "g", "type": "nominal", "sort": ["Vehicle", "CsA"], "scale": {"type": "band", "paddingInner": 0.34, "paddingOuter": 0.199, "align": 0.82}, "axis": {"labels": false, "title": "Plasmablasts"}}},
   "layer": [
    {"transform": [{"filter": "datum.k=='s'"}], "mark": {"type": "bar", "fill": "white", "stroke": "black", "strokeWidth": 1.5}, "encoding": {"y": {"field": "m", "type": "quantitative", "scale": {"domain": [0, 6], "nice": false}, "axis": {"values": [0, 2, 4, 6], "tickCount": 20, "format": "d", "title": null}}}},
    {"transform": [{"filter": "datum.k=='s'"}], "mark": {"type": "rule", "strokeWidth": 1.5}, "encoding": {"y": {"field": "lo", "type": "quantitative"}, "y2": {"field": "hi"}}},
    {"transform": [{"filter": "datum.k=='s'"}], "mark": {"type": "tick", "orient": "horizontal", "size": 18, "thickness": 1.5, "opacity": 1}, "encoding": {"y": {"field": "lo", "type": "quantitative"}}},
    {"transform": [{"filter": "datum.k=='s'"}], "mark": {"type": "tick", "orient": "horizontal", "size": 18, "thickness": 1.5, "opacity": 1}, "encoding": {"y": {"field": "hi", "type": "quantitative"}}},
    {"transform": [{"filter": "datum.k=='p'"}], "mark": {"type": "point", "filled": true, "stroke": "black", "strokeWidth": 1.2, "size": 45, "opacity": 1}, "encoding": {"xOffset": {"field": "j", "type": "quantitative", "scale": {"domain": [-1, 1], "nice": false, "zero": false}}, "y": {"field": "v", "type": "quantitative"},
      "shape": {"field": "g", "type": "nominal", "scale": {"domain": ["Vehicle", "CsA"], "range": ["square", "circle"]}, "legend": {"orient": "none", "legendX": 74, "legendY": 11.7, "title": null, "symbolSize": 75, "symbolStrokeWidth": 1.5, "labelFontSize": 12, "labelOffset": 7, "rowPadding": 1.3}},
      "fill": {"field": "g", "type": "nominal", "scale": {"domain": ["Vehicle", "CsA"], "range": ["black", "white"]}, "legend": {"orient": "none", "legendX": 74, "legendY": 11.7, "title": null, "symbolSize": 75, "symbolStrokeWidth": 1.5, "labelFontSize": 12, "labelOffset": 7, "rowPadding": 1.3}},
      "stroke": {"field": "g", "type": "nominal", "scale": {"domain": ["Vehicle", "CsA"], "range": ["black", "black"]}, "legend": {"orient": "none", "legendX": 74, "legendY": 11.7, "title": null, "symbolSize": 75, "symbolStrokeWidth": 1.5, "labelFontSize": 12, "labelOffset": 7, "rowPadding": 1.3}}}},
    {"transform": [{"filter": "datum.k=='sig'"}], "mark": {"type": "line", "strokeWidth": 1}, "encoding": {"y": {"field": "v", "type": "quantitative"}}},
    {"transform": [{"filter": "datum.k=='ast'"}], "mark": {"type": "text", "fontSize": 12, "baseline": "alphabetic"}, "encoding": {"xOffset": {"field": "j", "type": "quantitative", "scale": {"domain": [-1, 1], "nice": false, "zero": false}}, "y": {"field": "v", "type": "quantitative"}, "text": {"field": "t"}}}
   ]}
 ], "spacing": 33, "bounds": "flush",
 "resolve": {"scale": {"x": "independent", "y": "independent", "xOffset": "independent", "shape": "independent", "fill": "independent", "stroke": "independent"}, "legend": {"shape": "independent", "fill": "independent", "stroke": "independent"}}},
 {"width": 1, "height": 1, "data": {"values": []}, "mark": "point"},
 {"width": 1, "height": 1, "data": {"values": []}, "mark": "point"},
 {"width": 1, "height": 1, "data": {"values": []}, "mark": "point"}
]
}
